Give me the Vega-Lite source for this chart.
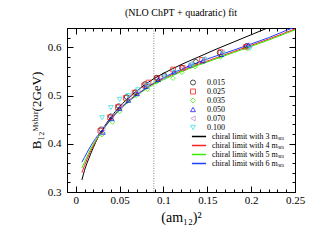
{
  "$schema": "https://vega.github.io/schema/vega-lite/v6.json",
  "width": 228,
  "height": 164,
  "autosize": {"type": "none"},
  "padding": {"left": 67, "top": 28, "right": 36, "bottom": 48},
  "background": "white",
  "config": {
    "font": "Liberation Serif",
    "view": {"stroke": "black", "strokeWidth": 1},
    "axis": {"grid": false, "domain": false, "tickColor": "black", "labelColor": "black", "titleColor": "black", "labelFont": "Liberation Serif", "titleFont": "Liberation Serif", "titleFontWeight": "normal"},
    "legend": {"labelFont": "Liberation Serif", "labelColor": "black"}
  },
  "title": {"text": "(NLO ChPT + quadratic) fit", "font": "Liberation Serif", "fontSize": 10, "fontWeight": "normal", "color": "black", "offset": 4},
  "datasets": {
    "pts": [
      {"m": "0.015", "x": 0.029, "y": 0.430}, {"m": "0.015", "x": 0.040, "y": 0.457}, {"m": "0.015", "x": 0.049, "y": 0.478}, {"m": "0.015", "x": 0.058, "y": 0.497}, {"m": "0.015", "x": 0.068, "y": 0.507}, {"m": "0.015", "x": 0.079, "y": 0.524}, {"m": "0.015", "x": 0.092, "y": 0.537}, {"m": "0.015", "x": 0.101, "y": 0.542}, {"m": "0.015", "x": 0.121, "y": 0.558}, {"m": "0.015", "x": 0.137, "y": 0.570}, {"m": "0.015", "x": 0.164, "y": 0.589}, {"m": "0.015", "x": 0.195, "y": 0.603},
      {"m": "0.025", "x": 0.028, "y": 0.427}, {"m": "0.025", "x": 0.039, "y": 0.455}, {"m": "0.025", "x": 0.048, "y": 0.476}, {"m": "0.025", "x": 0.057, "y": 0.495}, {"m": "0.025", "x": 0.067, "y": 0.506}, {"m": "0.025", "x": 0.078, "y": 0.521}, {"m": "0.025", "x": 0.083, "y": 0.527}, {"m": "0.025", "x": 0.093, "y": 0.536}, {"m": "0.025", "x": 0.111, "y": 0.554}, {"m": "0.025", "x": 0.122, "y": 0.557}, {"m": "0.025", "x": 0.144, "y": 0.574}, {"m": "0.025", "x": 0.165, "y": 0.590}, {"m": "0.025", "x": 0.194, "y": 0.601},
      {"m": "0.035", "x": 0.030, "y": 0.419}, {"m": "0.035", "x": 0.042, "y": 0.445}, {"m": "0.035", "x": 0.050, "y": 0.467}, {"m": "0.035", "x": 0.059, "y": 0.488}, {"m": "0.035", "x": 0.069, "y": 0.500}, {"m": "0.035", "x": 0.082, "y": 0.513}, {"m": "0.035", "x": 0.092, "y": 0.528}, {"m": "0.035", "x": 0.111, "y": 0.536}, {"m": "0.035", "x": 0.121, "y": 0.548}, {"m": "0.035", "x": 0.136, "y": 0.560}, {"m": "0.035", "x": 0.165, "y": 0.580}, {"m": "0.035", "x": 0.196, "y": 0.597},
      {"m": "0.050", "x": 0.031, "y": 0.424}, {"m": "0.050", "x": 0.041, "y": 0.452}, {"m": "0.050", "x": 0.050, "y": 0.473}, {"m": "0.050", "x": 0.060, "y": 0.490}, {"m": "0.050", "x": 0.070, "y": 0.504}, {"m": "0.050", "x": 0.080, "y": 0.519}, {"m": "0.050", "x": 0.094, "y": 0.533}, {"m": "0.050", "x": 0.112, "y": 0.549}, {"m": "0.050", "x": 0.130, "y": 0.563}, {"m": "0.050", "x": 0.145, "y": 0.572}, {"m": "0.050", "x": 0.166, "y": 0.585}, {"m": "0.050", "x": 0.197, "y": 0.605},
      {"m": "0.070", "x": 0.031, "y": 0.432}, {"m": "0.070", "x": 0.041, "y": 0.458}, {"m": "0.070", "x": 0.051, "y": 0.479}, {"m": "0.070", "x": 0.061, "y": 0.496}, {"m": "0.070", "x": 0.071, "y": 0.509}, {"m": "0.070", "x": 0.081, "y": 0.522}, {"m": "0.070", "x": 0.100, "y": 0.540}, {"m": "0.070", "x": 0.121, "y": 0.556}, {"m": "0.070", "x": 0.131, "y": 0.566}, {"m": "0.070", "x": 0.146, "y": 0.576}, {"m": "0.070", "x": 0.167, "y": 0.590}, {"m": "0.070", "x": 0.198, "y": 0.604},
      {"m": "0.100", "x": 0.030, "y": 0.454}, {"m": "0.100", "x": 0.040, "y": 0.475}, {"m": "0.100", "x": 0.050, "y": 0.492}, {"m": "0.100", "x": 0.060, "y": 0.500}, {"m": "0.100", "x": 0.071, "y": 0.512}, {"m": "0.100", "x": 0.082, "y": 0.521}, {"m": "0.100", "x": 0.102, "y": 0.538}, {"m": "0.100", "x": 0.113, "y": 0.548}, {"m": "0.100", "x": 0.132, "y": 0.563}, {"m": "0.100", "x": 0.147, "y": 0.574}, {"m": "0.100", "x": 0.168, "y": 0.586}, {"m": "0.100", "x": 0.199, "y": 0.598}
    ],
    "fits": [
      {"fit": "chiral limit with 3 mₛₑₐ", "x": 0.007, "y": 0.325}, {"fit": "chiral limit with 3 mₛₑₐ", "x": 0.010, "y": 0.345}, {"fit": "chiral limit with 3 mₛₑₐ", "x": 0.015, "y": 0.370}, {"fit": "chiral limit with 3 mₛₑₐ", "x": 0.020, "y": 0.392}, {"fit": "chiral limit with 3 mₛₑₐ", "x": 0.025, "y": 0.412}, {"fit": "chiral limit with 3 mₛₑₐ", "x": 0.030, "y": 0.428}, {"fit": "chiral limit with 3 mₛₑₐ", "x": 0.040, "y": 0.455}, {"fit": "chiral limit with 3 mₛₑₐ", "x": 0.050, "y": 0.477}, {"fit": "chiral limit with 3 mₛₑₐ", "x": 0.060, "y": 0.495}, {"fit": "chiral limit with 3 mₛₑₐ", "x": 0.070, "y": 0.510}, {"fit": "chiral limit with 3 mₛₑₐ", "x": 0.080, "y": 0.524}, {"fit": "chiral limit with 3 mₛₑₐ", "x": 0.090, "y": 0.536}, {"fit": "chiral limit with 3 mₛₑₐ", "x": 0.100, "y": 0.546}, {"fit": "chiral limit with 3 mₛₑₐ", "x": 0.120, "y": 0.564}, {"fit": "chiral limit with 3 mₛₑₐ", "x": 0.140, "y": 0.580}, {"fit": "chiral limit with 3 mₛₑₐ", "x": 0.160, "y": 0.596}, {"fit": "chiral limit with 3 mₛₑₐ", "x": 0.180, "y": 0.611}, {"fit": "chiral limit with 3 mₛₑₐ", "x": 0.200, "y": 0.626}, {"fit": "chiral limit with 3 mₛₑₐ", "x": 0.220, "y": 0.641}, {"fit": "chiral limit with 3 mₛₑₐ", "x": 0.240, "y": 0.656},
      {"fit": "chiral limit with 4 mₛₑₐ", "x": 0.007, "y": 0.340}, {"fit": "chiral limit with 4 mₛₑₐ", "x": 0.010, "y": 0.355}, {"fit": "chiral limit with 4 mₛₑₐ", "x": 0.015, "y": 0.377}, {"fit": "chiral limit with 4 mₛₑₐ", "x": 0.020, "y": 0.396}, {"fit": "chiral limit with 4 mₛₑₐ", "x": 0.025, "y": 0.412}, {"fit": "chiral limit with 4 mₛₑₐ", "x": 0.030, "y": 0.427}, {"fit": "chiral limit with 4 mₛₑₐ", "x": 0.040, "y": 0.452}, {"fit": "chiral limit with 4 mₛₑₐ", "x": 0.050, "y": 0.472}, {"fit": "chiral limit with 4 mₛₑₐ", "x": 0.060, "y": 0.489}, {"fit": "chiral limit with 4 mₛₑₐ", "x": 0.070, "y": 0.503}, {"fit": "chiral limit with 4 mₛₑₐ", "x": 0.080, "y": 0.515}, {"fit": "chiral limit with 4 mₛₑₐ", "x": 0.090, "y": 0.526}, {"fit": "chiral limit with 4 mₛₑₐ", "x": 0.100, "y": 0.535}, {"fit": "chiral limit with 4 mₛₑₐ", "x": 0.120, "y": 0.551}, {"fit": "chiral limit with 4 mₛₑₐ", "x": 0.140, "y": 0.565}, {"fit": "chiral limit with 4 mₛₑₐ", "x": 0.160, "y": 0.578}, {"fit": "chiral limit with 4 mₛₑₐ", "x": 0.180, "y": 0.591}, {"fit": "chiral limit with 4 mₛₑₐ", "x": 0.200, "y": 0.604}, {"fit": "chiral limit with 4 mₛₑₐ", "x": 0.220, "y": 0.617}, {"fit": "chiral limit with 4 mₛₑₐ", "x": 0.240, "y": 0.631}, {"fit": "chiral limit with 4 mₛₑₐ", "x": 0.250, "y": 0.638},
      {"fit": "chiral limit with 5 mₛₑₐ", "x": 0.007, "y": 0.350}, {"fit": "chiral limit with 5 mₛₑₐ", "x": 0.010, "y": 0.362}, {"fit": "chiral limit with 5 mₛₑₐ", "x": 0.015, "y": 0.382}, {"fit": "chiral limit with 5 mₛₑₐ", "x": 0.020, "y": 0.399}, {"fit": "chiral limit with 5 mₛₑₐ", "x": 0.025, "y": 0.413}, {"fit": "chiral limit with 5 mₛₑₐ", "x": 0.030, "y": 0.426}, {"fit": "chiral limit with 5 mₛₑₐ", "x": 0.040, "y": 0.450}, {"fit": "chiral limit with 5 mₛₑₐ", "x": 0.050, "y": 0.470}, {"fit": "chiral limit with 5 mₛₑₐ", "x": 0.060, "y": 0.487}, {"fit": "chiral limit with 5 mₛₑₐ", "x": 0.070, "y": 0.501}, {"fit": "chiral limit with 5 mₛₑₐ", "x": 0.080, "y": 0.513}, {"fit": "chiral limit with 5 mₛₑₐ", "x": 0.090, "y": 0.524}, {"fit": "chiral limit with 5 mₛₑₐ", "x": 0.100, "y": 0.533}, {"fit": "chiral limit with 5 mₛₑₐ", "x": 0.120, "y": 0.549}, {"fit": "chiral limit with 5 mₛₑₐ", "x": 0.140, "y": 0.563}, {"fit": "chiral limit with 5 mₛₑₐ", "x": 0.160, "y": 0.576}, {"fit": "chiral limit with 5 mₛₑₐ", "x": 0.180, "y": 0.589}, {"fit": "chiral limit with 5 mₛₑₐ", "x": 0.200, "y": 0.602}, {"fit": "chiral limit with 5 mₛₑₐ", "x": 0.220, "y": 0.615}, {"fit": "chiral limit with 5 mₛₑₐ", "x": 0.240, "y": 0.629}, {"fit": "chiral limit with 5 mₛₑₐ", "x": 0.250, "y": 0.636},
      {"fit": "chiral limit with 6 mₛₑₐ", "x": 0.007, "y": 0.362}, {"fit": "chiral limit with 6 mₛₑₐ", "x": 0.010, "y": 0.372}, {"fit": "chiral limit with 6 mₛₑₐ", "x": 0.015, "y": 0.389}, {"fit": "chiral limit with 6 mₛₑₐ", "x": 0.020, "y": 0.404}, {"fit": "chiral limit with 6 mₛₑₐ", "x": 0.025, "y": 0.417}, {"fit": "chiral limit with 6 mₛₑₐ", "x": 0.030, "y": 0.428}, {"fit": "chiral limit with 6 mₛₑₐ", "x": 0.040, "y": 0.451}, {"fit": "chiral limit with 6 mₛₑₐ", "x": 0.050, "y": 0.471}, {"fit": "chiral limit with 6 mₛₑₐ", "x": 0.060, "y": 0.488}, {"fit": "chiral limit with 6 mₛₑₐ", "x": 0.070, "y": 0.502}, {"fit": "chiral limit with 6 mₛₑₐ", "x": 0.080, "y": 0.515}, {"fit": "chiral limit with 6 mₛₑₐ", "x": 0.090, "y": 0.527}, {"fit": "chiral limit with 6 mₛₑₐ", "x": 0.100, "y": 0.537}, {"fit": "chiral limit with 6 mₛₑₐ", "x": 0.120, "y": 0.554}, {"fit": "chiral limit with 6 mₛₑₐ", "x": 0.140, "y": 0.569}, {"fit": "chiral limit with 6 mₛₑₐ", "x": 0.160, "y": 0.582}, {"fit": "chiral limit with 6 mₛₑₐ", "x": 0.180, "y": 0.594}, {"fit": "chiral limit with 6 mₛₑₐ", "x": 0.200, "y": 0.607}, {"fit": "chiral limit with 6 mₛₑₐ", "x": 0.220, "y": 0.620}, {"fit": "chiral limit with 6 mₛₑₐ", "x": 0.240, "y": 0.635}, {"fit": "chiral limit with 6 mₛₑₐ", "x": 0.250, "y": 0.642}
    ],
    "vline": [{"x": 0.089}]
  },
  "layer": [
    {
      "data": {"name": "vline"},
      "mark": {"type": "rule", "color": "#888888", "strokeDash": [1, 1.5], "strokeWidth": 1},
      "encoding": {
        "x": {"field": "x", "type": "quantitative", "scale": {"domain": [-0.01, 0.25], "nice": false, "zero": false},
          "axis": {"orient": "top", "values": [-0.01,0,0.01,0.02,0.03,0.04,0.05,0.06,0.07,0.08,0.09,0.1,0.11,0.12,0.13,0.14,0.15,0.16,0.17,0.18,0.19,0.2,0.21,0.22,0.23,0.24,0.25], "labels": false, "title": null,
            "tickSize": {"condition": {"test": "abs(datum.value*20 - round(datum.value*20)) < 0.001", "value": -6}, "value": -3}}}
      }
    },
    {
      "data": {"name": "fits"},
      "mark": {"type": "line", "clip": true, "strokeWidth": 1, "interpolate": "monotone"},
      "encoding": {
        "x": {"field": "x", "type": "quantitative",
          "axis": {"orient": "bottom", "values": [-0.01,0,0.01,0.02,0.03,0.04,0.05,0.06,0.07,0.08,0.09,0.1,0.11,0.12,0.13,0.14,0.15,0.16,0.17,0.18,0.19,0.2,0.21,0.22,0.23,0.24,0.25],
            "labelExpr": "abs(datum.value*20 - round(datum.value*20)) < 0.001 ? toString(round(datum.value*100)/100) : ''",
            "labelFontSize": 11, "labelPadding": 8, "labelFlush": false, "labelOverlap": false,
            "tickSize": {"condition": {"test": "abs(datum.value*20 - round(datum.value*20)) < 0.001", "value": -6}, "value": -3},
            "title": "(am₁₂)²", "titleFontSize": 14, "titlePadding": 2}},
        "y": {"field": "y", "type": "quantitative", "scale": {"domain": [0.3, 0.64], "nice": false, "zero": false},
          "axis": {"orient": "left", "values": [0.3,0.32,0.34,0.36,0.38,0.4,0.42,0.44,0.46,0.48,0.5,0.52,0.54,0.56,0.58,0.6,0.62,0.64],
            "labelExpr": "abs(datum.value*10 - round(datum.value*10)) < 0.001 ? toString(round(datum.value*10)/10) : ''",
            "labelFontSize": 11, "labelPadding": 12, "labelFlush": false, "labelOverlap": false,
            "tickSize": {"condition": {"test": "abs(datum.value*10 - round(datum.value*10)) < 0.001", "value": -6}, "value": -3},
            "title": "B₁₂ᴹˢᵇᵃʳ(2GeV)", "titleFontSize": 13, "titlePadding": 4}},
        "stroke": {"field": "fit", "type": "nominal",
          "scale": {"range": ["#000000", "#ff2020", "#33ee00", "#2040ff"]},
          "legend": {"orient": "none", "legendX": 124, "legendY": 104, "title": null, "symbolType": "stroke", "symbolSize": 200, "symbolStrokeWidth": 1.5, "labelFontSize": 8, "rowPadding": 0, "clipHeight": 9, "labelOffset": 5}}
      }
    },
    {
      "data": {"name": "pts"},
      "mark": {"type": "point", "filled": false, "size": 22, "strokeWidth": 1, "clip": true},
      "encoding": {
        "x": {"field": "x", "type": "quantitative", "axis": null},
        "y": {"field": "y", "type": "quantitative", "axis": null},
        "color": {"field": "m", "type": "nominal", "scale": {"range": ["#000000", "#ff0000", "#33ee00", "#0000ff", "#bb88cc", "#22dddd"]},
          "legend": {"orient": "none", "legendX": 122, "legendY": 50, "title": null, "labelFontSize": 8, "symbolSize": 25, "symbolStrokeWidth": 1, "rowPadding": 0, "clipHeight": 9, "labelOffset": 10}},
        "shape": {"field": "m", "type": "nominal", "scale": {"range": ["circle", "square", "diamond", "triangle-up", "triangle-left", "triangle-down"]}}
      }
    },
    {
      "data": {"name": "vline"},
      "mark": {"type": "point", "opacity": 0},
      "encoding": {
        "y": {"datum": 0.5, "type": "quantitative",
          "axis": {"orient": "right", "values": [0.3,0.32,0.34,0.36,0.38,0.4,0.42,0.44,0.46,0.48,0.5,0.52,0.54,0.56,0.58,0.6,0.62,0.64], "labels": false, "title": null,
            "tickSize": {"condition": {"test": "abs(datum.value*10 - round(datum.value*10)) < 0.001", "value": -6}, "value": -3}}},
        "x": {"field": "x", "type": "quantitative", "axis": null}
      }
    }
  ]
}
